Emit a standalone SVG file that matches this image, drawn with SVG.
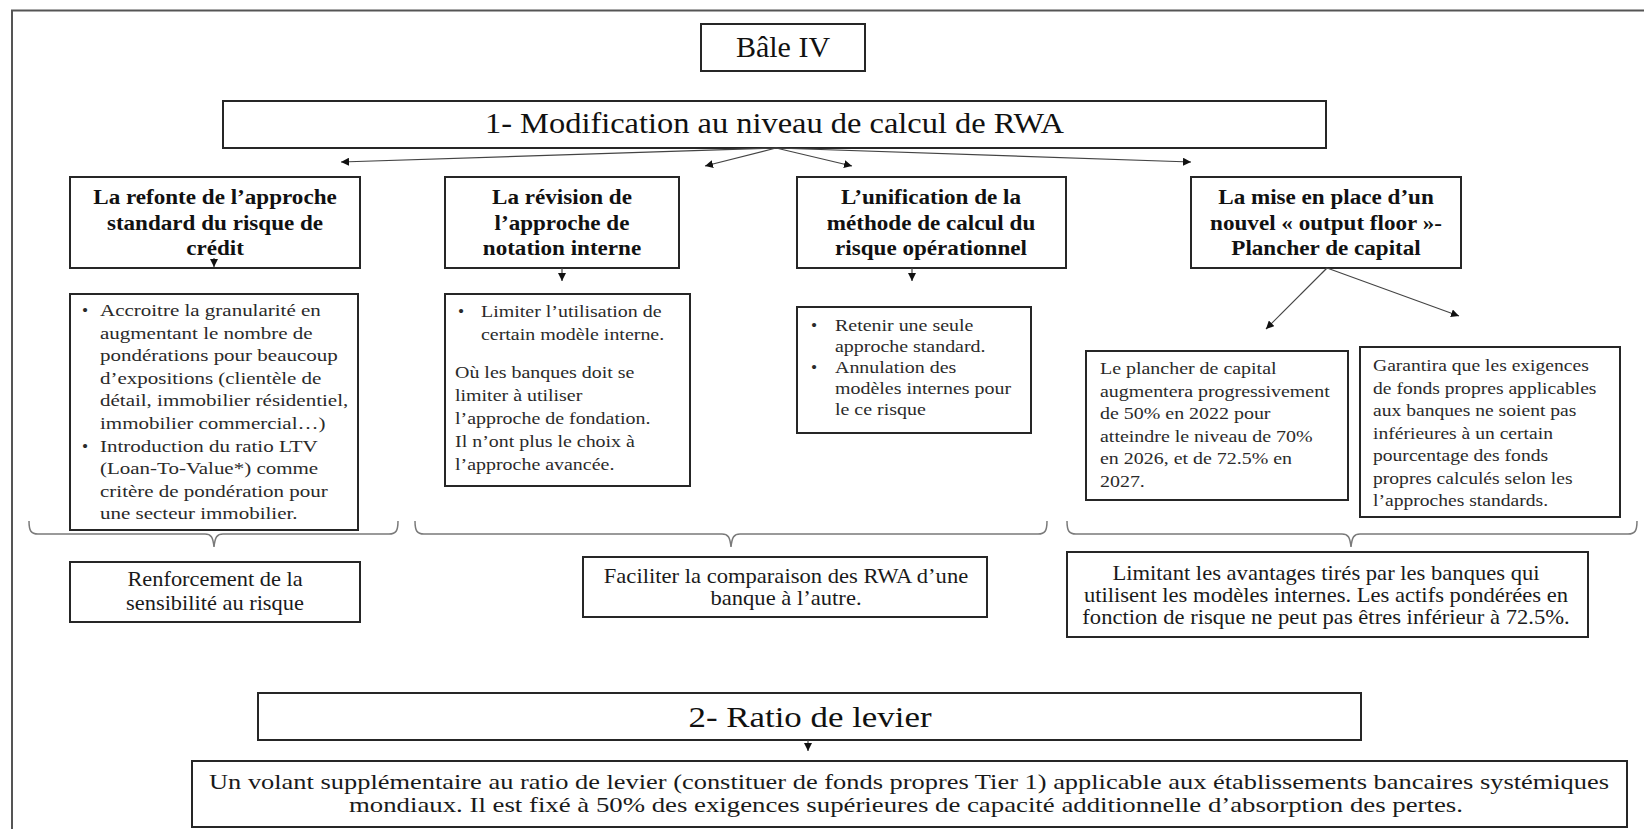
<svg xmlns="http://www.w3.org/2000/svg" width="1644" height="829" viewBox="0 0 1644 829">
<defs>
<marker id="ah" viewBox="0 0 10 10" refX="10" refY="5" markerWidth="8" markerHeight="8" markerUnits="userSpaceOnUse" orient="auto"><path d="M0,0 L10,5 L0,10 z" fill="#111"/></marker>
<style>
.box{fill:#fff;stroke:#262626;stroke-width:2}
.frame{fill:none;stroke:#555;stroke-width:2}
.con{fill:none;stroke:#444;stroke-width:1.2}
.brace{fill:none;stroke:#7a7a7a;stroke-width:1.5}
text{font-family:"Liberation Serif","Times New Roman",serif}
.t{font-size:30px;fill:#111;text-anchor:middle}
.h{font-size:22px;font-weight:bold;fill:#111;text-anchor:middle}
.b{font-size:17.5px;fill:#2a2a2a}
.m{font-size:20px;fill:#1a1a1a;text-anchor:middle}
.l{font-size:22px;fill:#1a1a1a;text-anchor:middle}
</style>
</defs>
<rect x="0" y="0" width="1644" height="829" fill="#fff"/>
<rect class="frame" x="12" y="10.5" width="1700" height="900"/>

<g id="bale">
<rect class="box" x="701" y="24" width="164" height="47"/>
<text class="t" x="783" y="57">Bâle IV</text>
</g>

<g id="titre1">
<rect class="box" x="223" y="101" width="1103" height="47"/>
<text class="t" x="774.5" y="133" textLength="579" lengthAdjust="spacingAndGlyphs">1- Modification au niveau de calcul de RWA</text>
</g>

<g id="refonte">
<rect class="box" x="70" y="177" width="290" height="91"/>
<text class="h" transform="translate(215,204) scale(1.05,1)">La refonte de l’approche</text>
<text class="h" transform="translate(215,230) scale(1.05,1)">standard du risque de</text>
<text class="h" transform="translate(215,255) scale(1.05,1)">crédit</text>
</g>

<g id="revision">
<rect class="box" x="445" y="177" width="234" height="91"/>
<text class="h" transform="translate(562,204) scale(1.05,1)">La révision de</text>
<text class="h" transform="translate(562,230) scale(1.05,1)">l’approche de</text>
<text class="h" transform="translate(562,255) scale(1.05,1)">notation interne</text>
</g>

<g id="unification">
<rect class="box" x="797" y="177" width="269" height="91"/>
<text class="h" transform="translate(931,204) scale(1.05,1)">L’unification de la</text>
<text class="h" transform="translate(931,230) scale(1.05,1)">méthode de calcul du</text>
<text class="h" transform="translate(931,255) scale(1.05,1)">risque opérationnel</text>
</g>

<g id="outputfloor">
<rect class="box" x="1191" y="177" width="270" height="91"/>
<text class="h" transform="translate(1326,204) scale(1.05,1)">La mise en place d’un</text>
<text class="h" transform="translate(1326,230) scale(1.05,1)">nouvel « output floor »-</text>
<text class="h" transform="translate(1326,255) scale(1.05,1)">Plancher de capital</text>
</g>

<g id="detailA">
<rect class="box" x="70" y="294" width="288" height="236"/>
<text class="b" x="82" y="316">•</text>
<text class="b" transform="translate(100,316) scale(1.2,1)">Accroitre la granularité en</text>
<text class="b" transform="translate(100,338.6) scale(1.2,1)">augmentant le nombre de</text>
<text class="b" transform="translate(100,361.2) scale(1.2,1)">pondérations pour beaucoup</text>
<text class="b" transform="translate(100,383.8) scale(1.2,1)">d’expositions (clientèle de</text>
<text class="b" transform="translate(100,406.4) scale(1.2,1)">détail, immobilier résidentiel,</text>
<text class="b" transform="translate(100,429) scale(1.2,1)">immobilier commercial…)</text>
<text class="b" x="82" y="451.6">•</text>
<text class="b" transform="translate(100,451.6) scale(1.2,1)">Introduction du ratio LTV</text>
<text class="b" transform="translate(100,474.2) scale(1.2,1)">(Loan-To-Value*) comme</text>
<text class="b" transform="translate(100,496.8) scale(1.2,1)">critère de pondération pour</text>
<text class="b" transform="translate(100,519.4) scale(1.2,1)">une secteur immobilier.</text>
</g>

<g id="detailB">
<rect class="box" x="445" y="294" width="245" height="192"/>
<text class="b" x="458" y="317">•</text>
<text class="b" transform="translate(481,317) scale(1.14,1)">Limiter l’utilisation de</text>
<text class="b" transform="translate(481,340) scale(1.14,1)">certain modèle interne.</text>
<text class="b" transform="translate(455,378) scale(1.14,1)">Où les banques doit se</text>
<text class="b" transform="translate(455,401) scale(1.14,1)">limiter à utiliser</text>
<text class="b" transform="translate(455,424) scale(1.14,1)">l’approche de fondation.</text>
<text class="b" transform="translate(455,447) scale(1.14,1)">Il n’ont plus le choix à</text>
<text class="b" transform="translate(455,470) scale(1.14,1)">l’approche avancée.</text>
</g>

<g id="detailC">
<rect class="box" x="797" y="307" width="234" height="126"/>
<text class="b" x="811" y="331">•</text>
<text class="b" transform="translate(835,331) scale(1.14,1)">Retenir une seule</text>
<text class="b" transform="translate(835,352) scale(1.14,1)">approche standard.</text>
<text class="b" x="811" y="373">•</text>
<text class="b" transform="translate(835,373) scale(1.14,1)">Annulation des</text>
<text class="b" transform="translate(835,394) scale(1.14,1)">modèles internes pour</text>
<text class="b" transform="translate(835,415) scale(1.14,1)">le ce risque</text>
</g>

<g id="detailD1">
<rect class="box" x="1086" y="351" width="262" height="149"/>
<text class="b" transform="translate(1100,374) scale(1.14,1)">Le plancher de capital</text>
<text class="b" transform="translate(1100,396.5) scale(1.14,1)">augmentera progressivement</text>
<text class="b" transform="translate(1100,419) scale(1.14,1)">de 50% en 2022 pour</text>
<text class="b" transform="translate(1100,441.5) scale(1.14,1)">atteindre le niveau de 70%</text>
<text class="b" transform="translate(1100,464) scale(1.14,1)">en 2026, et de 72.5% en</text>
<text class="b" transform="translate(1100,486.5) scale(1.14,1)">2027.</text>
</g>

<g id="detailD2">
<rect class="box" x="1360" y="347" width="260" height="170"/>
<text class="b" transform="translate(1373,371) scale(1.12,1)">Garantira que les exigences</text>
<text class="b" transform="translate(1373,393.5) scale(1.12,1)">de fonds propres applicables</text>
<text class="b" transform="translate(1373,416) scale(1.12,1)">aux banques ne soient pas</text>
<text class="b" transform="translate(1373,438.5) scale(1.12,1)">inférieures à un certain</text>
<text class="b" transform="translate(1373,461) scale(1.12,1)">pourcentage des fonds</text>
<text class="b" transform="translate(1373,483.5) scale(1.12,1)">propres calculés selon les</text>
<text class="b" transform="translate(1373,506) scale(1.12,1)">l’approches standards.</text>
</g>

<g id="renforcement">
<rect class="box" x="70" y="562" width="290" height="60"/>
<text class="m" transform="translate(215,586) scale(1.12,1)">Renforcement de la</text>
<text class="m" transform="translate(215,610) scale(1.12,1)">sensibilité au risque</text>
</g>

<g id="faciliter">
<rect class="box" x="583" y="557" width="404" height="60"/>
<text class="m" transform="translate(786,583) scale(1.13,1)">Faciliter la comparaison des RWA d’une</text>
<text class="m" transform="translate(786,605) scale(1.13,1)">banque à l’autre.</text>
</g>

<g id="limitant">
<rect class="box" x="1067" y="552" width="521" height="85"/>
<text class="m" transform="translate(1326,580) scale(1.13,1)">Limitant les avantages tirés par les banques qui</text>
<text class="m" transform="translate(1326,602) scale(1.13,1)">utilisent les modèles internes. Les actifs pondérées en</text>
<text class="m" transform="translate(1326,624) scale(1.13,1)">fonction de risque ne peut pas êtres inférieur à 72.5%.</text>
</g>

<g id="titre2">
<rect class="box" x="258" y="693" width="1103" height="47"/>
<text class="t" x="810" y="727" textLength="243" lengthAdjust="spacingAndGlyphs">2- Ratio de levier</text>
</g>

<g id="levier">
<rect class="box" x="192" y="761" width="1435" height="66"/>
<text class="l" x="909" y="789" textLength="1400" lengthAdjust="spacingAndGlyphs">Un volant supplémentaire au ratio de levier (constituer de fonds propres Tier 1) applicable aux établissements bancaires systémiques</text>
<text class="l" x="906" y="812" textLength="1114" lengthAdjust="spacingAndGlyphs">mondiaux. Il est fixé à 50% des exigences supérieures de capacité additionnelle d’absorption des pertes.</text>
</g>

<g id="connectors">
<path class="con" d="M776,148 L341,162" marker-end="url(#ah)"/>
<path class="con" d="M776,148 L705,166" marker-end="url(#ah)"/>
<path class="con" d="M776,148 L852,166" marker-end="url(#ah)"/>
<path class="con" d="M776,148 L1191,162" marker-end="url(#ah)"/>
<path class="con" d="M214,258 L214,267" marker-end="url(#ah)"/>
<path class="con" d="M562,268 L562,281" marker-end="url(#ah)"/>
<path class="con" d="M912,268 L912,281" marker-end="url(#ah)"/>
<path class="con" d="M1327,268 L1266,329" marker-end="url(#ah)"/>
<path class="con" d="M1327,268 L1459,316" marker-end="url(#ah)"/>
<path class="con" d="M808,740 L808,751" marker-end="url(#ah)"/>
<path class="brace" d="M29,521 C29,531 31,534 38,534 L205,534 C211,534 213,537 214,547 C215,537 217,534 223,534 L389,534 C396,534 398,531 398,521"/>
<path class="brace" d="M415,521 C415,531 417,534 424,534 L722,534 C728,534 730,537 731,547 C732,537 734,534 740,534 L1038,534 C1045,534 1047,531 1047,521"/>
<path class="brace" d="M1067,521 C1067,531 1069,534 1076,534 L1342,534 C1348,534 1350,537 1351,547 C1352,537 1354,534 1360,534 L1628,534 C1635,534 1637,531 1637,521"/>
</g>
</svg>
